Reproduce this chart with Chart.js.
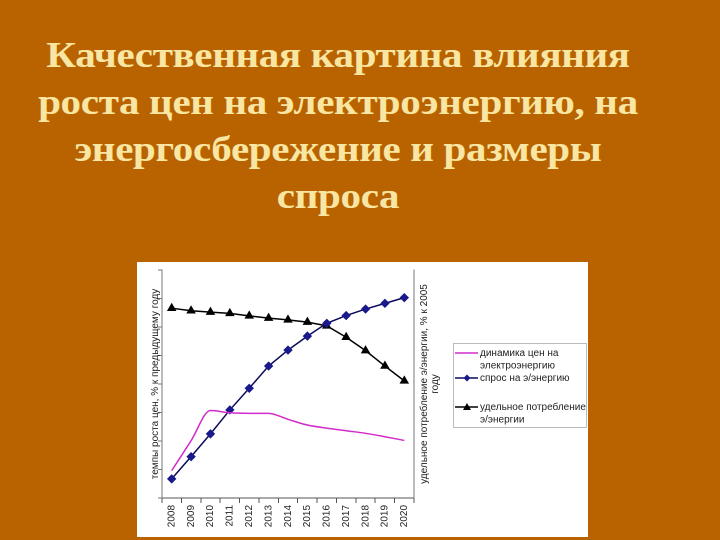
<!DOCTYPE html>
<html>
<head>
<meta charset="utf-8">
<script src="https://cdn.jsdelivr.net/npm/chart.js@4"></script>
<style>
  html, body { margin: 0; padding: 0; }
  body { width: 720px; height: 540px; background: #b86200; position: relative; overflow: hidden; }
  #title {
    position: absolute; left: 0; top: 32px; width: 676px; text-align: center;
    font-family: "Liberation Serif", "DejaVu Serif", serif; font-weight: bold;
    font-size: 36px; line-height: 47px; color: #f8e6a2; letter-spacing: -0.3px;
    transform: scaleX(1.14); transform-origin: 338px 0;
  }
  #panel { position: absolute; left: 137px; top: 262px; width: 451px; height: 275px; background: #fff; }
</style>
</head>
<body>
<div id="title">Качественная картина влияния<br>роста цен на электроэнергию, на<br>энергосбережение и размеры<br>спроса</div>
<div id="panel"><canvas id="chart" width="451" height="275"></canvas></div>
<script>
// годы
const years = ['2008', '2009', '2010', '2011', '2012', '2013', '2014', '2015', '2016', '2017', '2018', '2019', '2020'];

// серии (условные единицы, шкала 0..80)
const priceGrowth = [9.6, 20.1, 30.7, 29.9, 29.7, 29.7, 27.6, 25.6, 24.5, 23.6, 22.7, 21.5, 20.2];
const demand = [6.7, 14.5, 22.5, 30.9, 38.5, 46.3, 51.9, 56.8, 61.3, 64.0, 66.3, 68.3, 70.3];
const specificUse = [66.6, 65.7, 65.2, 64.8, 63.9, 63.1, 62.5, 61.7, 60.4, 56.4, 51.7, 46.3, 41.1];

// подписи
const seriesNames = [
  ['динамика цен на', 'электроэнергию'],
  ['спрос на э/энергию'],
  ['удельное потребление', 'э/энергии'],
];
const leftTitle = 'темпы роста цен, % к предыдущему году';
const rightTitle = ['удельное потребление э/энергии, % к 2005', 'году'];

const font = '"Liberation Sans", Arial, sans-serif';

// правая подпись оси и легенда
const extras = {
  id: 'extras',
  afterDraw(chart) {
    const c = chart.ctx;
    const area = chart.chartArea;
    c.save();
    c.fillStyle = '#222';
    c.font = '10px ' + font;
    c.textAlign = 'center';
    c.textBaseline = 'middle';
    const cy = (area.top + area.bottom) / 2;
    rightTitle.forEach((t, i) => {
      c.save();
      c.translate(area.right + 10 + i * 11, cy);
      c.rotate(-Math.PI / 2);
      c.fillText(t, 0, 0);
      c.restore();
    });
    c.restore();

    // легенда
    const bx = 316, by = 81, bw = 133, bh = 84;
    c.save();
    c.strokeStyle = '#bbb';
    c.lineWidth = 1;
    c.strokeRect(bx + 0.5, by + 0.5, bw, bh);
    const rows = [10, 35, 64];
    chart.data.datasets.forEach((ds, i) => {
      const y = by + rows[i];
      c.strokeStyle = ds.borderColor;
      c.lineWidth = ds.borderWidth;
      c.beginPath();
      c.moveTo(bx + 2, y);
      c.lineTo(bx + 25, y);
      c.stroke();
      if (ds.pointRadius > 0) {
        c.fillStyle = ds.pointBackgroundColor;
        c.beginPath();
        if (ds.pointStyle === 'triangle') {
          c.moveTo(bx + 14, y - 4);
          c.lineTo(bx + 18, y + 3);
          c.lineTo(bx + 10, y + 3);
        } else {
          c.moveTo(bx + 14, y - 3.5);
          c.lineTo(bx + 17.5, y);
          c.lineTo(bx + 14, y + 3.5);
          c.lineTo(bx + 10.5, y);
        }
        c.closePath();
        c.fill();
      }
      c.fillStyle = '#222';
      c.font = '10px ' + font;
      c.textAlign = 'left';
      c.textBaseline = 'middle';
      seriesNames[i].forEach((t, j) => c.fillText(t, bx + 27, y + j * 12.5));
    });
    c.restore();
  }
};

new Chart(document.getElementById('chart'), {
  type: 'line',
  data: {
    labels: years,
    datasets: [
      {
        label: seriesNames[0].join(' '),
        data: priceGrowth,
        borderColor: '#d22ccb',
        borderWidth: 1.5,
        pointRadius: 0,
        cubicInterpolationMode: 'monotone',
      },
      {
        label: seriesNames[1].join(' '),
        data: demand,
        borderColor: '#0a0a5a',
        borderWidth: 1.5,
        pointStyle: 'rectRot',
        pointRadius: 4,
        pointBackgroundColor: '#1a1a8c',
        pointBorderColor: '#1a1a8c',
        pointBorderWidth: 1,
      },
      {
        label: seriesNames[2].join(' '),
        data: specificUse,
        borderColor: '#000',
        borderWidth: 1.5,
        pointStyle: 'triangle',
        pointRadius: 4.5,
        pointBackgroundColor: '#000',
        pointBorderColor: '#000',
        pointBorderWidth: 1,
      },
    ],
  },
  options: {
    responsive: false,
    animation: false,
    devicePixelRatio: 2,
    layout: { padding: { top: 8, right: 144, left: 0, bottom: 0 } },
    plugins: { legend: { display: false }, tooltip: { enabled: false } },
    scales: {
      x: {
        offset: true,
        grid: { offset: true, drawOnChartArea: false, tickLength: 5, color: '#555' },
        border: { color: '#555' },
        ticks: { autoSkip: false, minRotation: 90, maxRotation: 90, padding: 2, color: '#222', font: { family: font, size: 10 } },
        afterFit: (s) => { s.height = 39; },
      },
      y: {
        min: 0,
        max: 80,
        ticks: { stepSize: 10, display: false },
        grid: { drawOnChartArea: false, tickLength: 4, color: '#777' },
        border: { color: '#777' },
        title: { display: true, text: leftTitle, color: '#222', font: { family: font, size: 10 }, padding: { top: 12, bottom: 0 } },
        afterFit: (s) => { s.width = 25; },
      },
      y2: {
        position: 'right',
        min: 0,
        max: 80,
        ticks: { display: false },
        grid: { drawOnChartArea: false, drawTicks: false },
        border: { color: '#777' },
        afterFit: (s) => { s.width = 30; },
      },
    },
  },
  plugins: [extras],
});
</script>
</body>
</html>
